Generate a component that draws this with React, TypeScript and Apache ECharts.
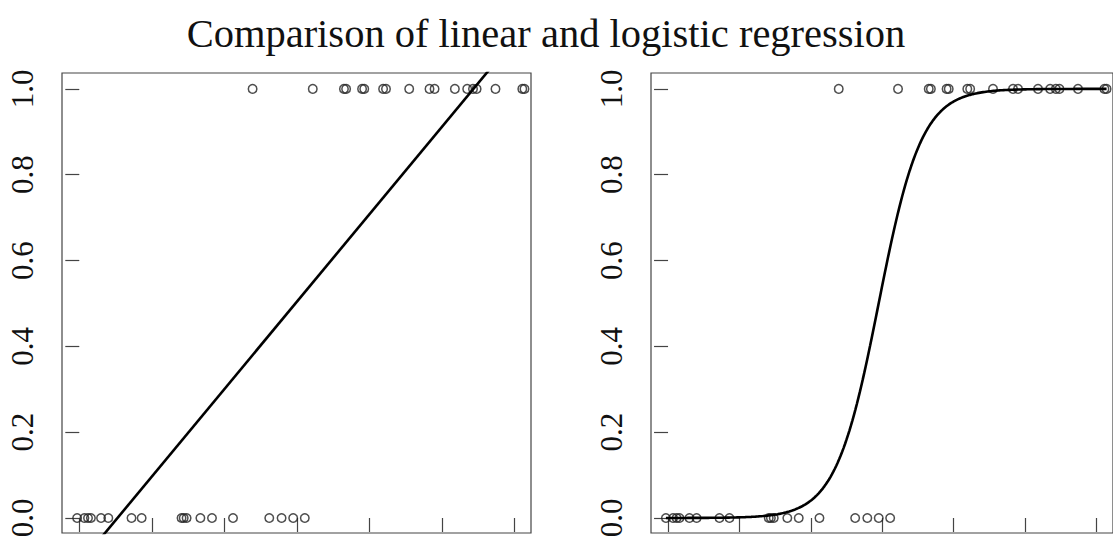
import { useEffect, useRef } from "react";
import * as echarts from "echarts";

// ---- data ----
const TITLE = "Comparison of linear and logistic regression";
const X_TICKS = [0, 1, 2, 3, 4, 5, 6];
const Y_TICKS = [0, 0.2, 0.4, 0.6, 0.8, 1.0];

// x positions (in axis units) of observations with y = 0
const X_ZERO = [-0.03, 0.07, 0.12, 0.16, 0.3, 0.4, 0.72, 0.86, 1.41, 1.44, 1.48, 1.67, 1.83, 2.12, 2.62, 2.79, 2.95, 3.11];
// x positions of observations with y = 1
const X_ONE = [2.39, 3.22, 3.65, 3.68, 3.9, 3.93, 4.19, 4.23, 4.55, 4.83, 4.9, 5.18, 5.35, 5.43, 5.48, 5.74, 6.11, 6.14];

// fitted model coefficients
const LINEAR_INTERCEPT = -0.1073;
const LINEAR_SLOPE = 0.2037;
const LOGIT_INTERCEPT = -9.82;
const LOGIT_SLOPE = 3.33;

// axis extents (R style 4% padding)
const X_MIN = -0.2386;
const X_MAX = 6.23;
const Y_MIN = -0.035;
const Y_MAX = 1.037;

const FONT = "Liberation Serif, Times New Roman, serif";

export default function App() {
  const ref = useRef<HTMLDivElement>(null);

  useEffect(() => {
    if (!ref.current) return;
    const chart = echarts.init(ref.current, undefined, { renderer: "svg" });

    const points = [
      ...X_ZERO.map((x) => [x, 0]),
      ...X_ONE.map((x) => [x, 1]),
    ];
    const allX = [...X_ZERO, ...X_ONE];
    const dataMin = Math.min(...allX);
    const dataMax = Math.max(...allX);

    const linearLine = [X_MIN, X_MAX].map((x) => [x, LINEAR_INTERCEPT + LINEAR_SLOPE * x]);
    const logisticCurve: number[][] = [];
    const steps = 300;
    for (let i = 0; i <= steps; i++) {
      const x = dataMin + ((dataMax - dataMin) * i) / steps;
      logisticCurve.push([x, 1 / (1 + Math.exp(-(LOGIT_INTERCEPT + LOGIT_SLOPE * x)))]);
    }

    const xAxis = (gridIndex: number) => ({
      type: "value",
      gridIndex,
      min: X_MIN,
      max: X_MAX,
      axisLine: { show: false },
      splitLine: { show: false },
      axisTick: { show: true, customValues: X_TICKS, length: 14, lineStyle: { color: "#444", width: 1.2 } },
      axisLabel: { show: false, customValues: X_TICKS },
    });
    const yAxis = (gridIndex: number) => ({
      type: "value",
      gridIndex,
      min: Y_MIN,
      max: Y_MAX,
      axisLine: { show: false },
      splitLine: { show: false },
      axisTick: { show: true, customValues: Y_TICKS, length: 14, lineStyle: { color: "#444", width: 1.2 } },
      axisLabel: {
        customValues: Y_TICKS,
        rotate: 90,
        margin: 24,
        fontSize: 31,
        fontFamily: FONT,
        color: "#111",
        formatter: (v: number) => v.toFixed(1),
      },
    });

    const scatter = (i: number) => ({
      type: "scatter",
      xAxisIndex: i,
      yAxisIndex: i,
      data: points,
      symbol: "circle",
      symbolSize: 8.5,
      itemStyle: { color: "rgba(0,0,0,0)", borderColor: "#222", borderWidth: 1.5 },
      z: 2,
    });

    chart.setOption({
      animation: false,
      backgroundColor: "#fff",
      graphic: [
        {
          type: "text",
          x: 546,
          y: 33,
          style: {
            text: TITLE,
            fontSize: 40.5,
            fontFamily: FONT,
            fill: "#111",
            textAlign: "center",
            textVerticalAlign: "middle",
          },
        },
      ],
      grid: [
        { left: 62, top: 73, width: 469, height: 460, show: true, borderColor: "#444", borderWidth: 1.2, backgroundColor: "transparent" },
        { left: 651, top: 73, width: 469, height: 460, show: true, borderColor: "#444", borderWidth: 1.2, backgroundColor: "transparent" },
      ],
      xAxis: [xAxis(0), xAxis(1)],
      yAxis: [yAxis(0), yAxis(1)],
      series: [
        scatter(0),
        {
          type: "line",
          xAxisIndex: 0,
          yAxisIndex: 0,
          data: linearLine,
          showSymbol: false,
          clip: true,
          lineStyle: { color: "#000", width: 2.6 },
          z: 3,
        },
        scatter(1),
        {
          type: "line",
          xAxisIndex: 1,
          yAxisIndex: 1,
          data: logisticCurve,
          showSymbol: false,
          clip: true,
          lineStyle: { color: "#000", width: 2.6 },
          z: 3,
        },
      ],
    });

    return () => chart.dispose();
  }, []);

  return (
    <div
      ref={ref}
      style={{ position: "fixed", left: 0, top: 0, width: 1113, height: 544, background: "#fff" }}
    />
  );
}
